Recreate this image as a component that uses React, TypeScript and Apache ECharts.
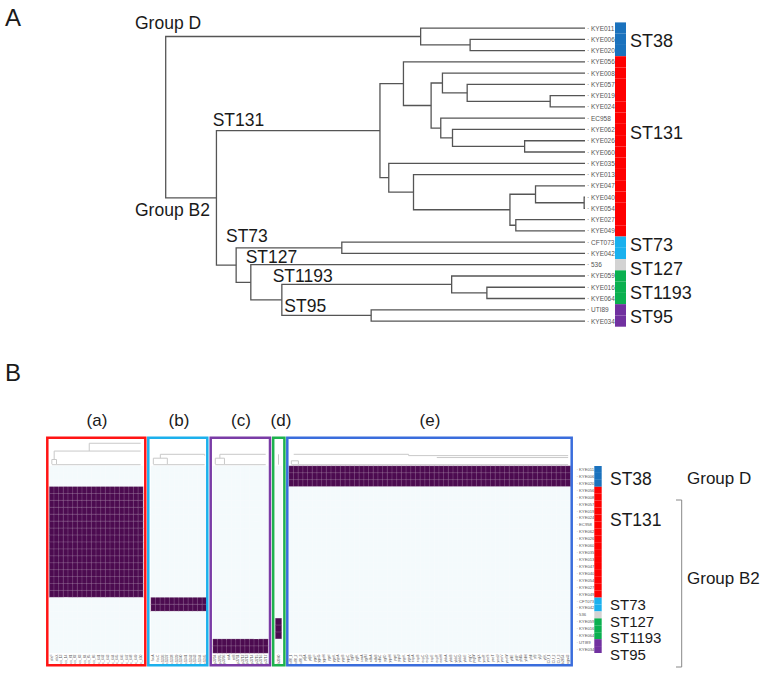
import React, { useEffect, useRef } from "react";
import * as echarts from "echarts";

// ---------------- DATA ----------------
const strains = [
  "KYE011", "KYE006", "KYE020", "KYE056", "KYE008", "KYE057", "KYE019", "KYE024", "EC958",
  "KYE062", "KYE026", "KYE060", "KYE035", "KYE013", "KYE047", "KYE040", "KYE054", "KYE027",
  "KYE049", "CFT073", "KYE042", "536", "KYE059", "KYE016", "KYE064", "UTI89", "KYE034",
];
const stGroups = ["ST38", "ST131", "ST73", "ST127", "ST1193", "ST95"];
const stSizes = [3, 16, 2, 1, 3, 2];

// tree: [branch point depth, child, child]; leaves at depth 100
type TNode = string | [number, TNode, TNode];
const tree: TNode = [0,
  [60.8, "KYE011", [72.6, "KYE006", "KYE020"]],
  [12.1,
    [51.1,
      [56.7, "KYE056",
        [63.3,
          [66.0, "KYE008", [71.9, "KYE057", [91.7, "KYE019", "KYE024"]]],
          [65.6, "EC958", [68.4, "KYE062", [85.6, "KYE026", "KYE060"]]],
        ],
      ],
      [53.2, "KYE035",
        [59.1, "KYE013",
          [82.1,
            [88.2, "KYE047", [99.8, "KYE040", "KYE054"]],
            [83.5, "KYE027", "KYE049"],
          ],
        ],
      ],
    ],
    [16.8,
      [42.0, "CFT073", "KYE042"],
      [20.3, "536",
        [27.7,
          [68.2, "KYE059", [76.6, "KYE016", "KYE064"]],
          [49.0, "UTI89", "KYE034"],
        ],
      ],
    ],
  ],
];

const genesA = ["sfaF", "sfaX", "ecs_13", "ecs_14", "ecs_81", "ecs_82", "ecs_83", "ecs_84", "ecs_85",
  "ecs_86", "ec_641", "ec_642", "ec_643", "ec_644", "ec_645", "ec_646", "ec_647", "ec_648", "ec_649", "ec_650"];
const genesB = ["focA", "focC", "c1336", "c1337", "c1338", "c1339", "c1340", "c1341", "c1342", "c1343", "c1344", "c1345"];
const genesC = ["ap3704", "ap3705", "ap3706", "eitA", "eitB", "ap3711", "ap3712", "ap3713", "ap3714",
  "ap3715", "ap3716", "ap3717"];
const genesD = ["k3060"];
const genesE = ["s88_1", "s88_2", "s88_3", "ydjA", "ydjB", "ygeF", "ygeG", "ygeH", "ygeI", "ygeK",
  "yqeA", "yqeB", "yqeC", "ygfJ", "ygfK", "ssnA", "ygfM", "xdhA", "xdhB", "xdhC", "ygfO", "yqeH",
  "yqeI", "yqeJ", "yqeK", "ygeA", "ecpA", "ecpB", "ecpC", "ecpD", "ecpE", "ecpR", "eaeH", "ybbA",
  "ybbB", "ybbC", "ybbD", "ybbE", "ycgV", "ycgW", "ycgX", "yeeR", "yeeS", "yeeT", "yeeU", "yeeV",
  "yeeW", "yfdE", "yfdF", "yfdG", "yfdH", "yfdI", "yfjI", "yfjJ", "yfjK", "ECU_1", "ECU_2",
  "ECU_3", "b2854", "agn43"];
const blockGenes = [genesA, genesB, genesC, genesD, genesE];
const blockST = ["ST131", "ST73", "ST95", "ST1193", "ST38"];

// column dendrograms above each heatmap block (polylines in [column, height])
const colTreeA = [
  [[0, 0.3], [0, 1.0], [1, 1.0], [1, 0.3]],
  [[0.5, 1.0], [0.5, 2.3], [19, 2.3]],
  [[8, 2.3], [8, 3.5], [19, 3.5]],
  [[0, 0.2], [19, 0.2]],
];
const colTreeB = [
  [[0, 0.3], [0, 1.2], [3, 1.2], [3, 0.3]],
  [[1.5, 1.2], [1.5, 1.8], [11, 1.8], [11, 1.6]],
  [[0, 0.2], [11, 0.2]],
];
const colTreeC = [
  [[0, 0.3], [0, 1.2], [2, 1.2], [2, 0.3]],
  [[1, 1.2], [1, 1.8], [11, 1.8]],
  [[0, 0.2], [11, 0.2]],
];
const colTreeD = [
  [[0, 0.2], [0, 1.8]],
];
const colTreeE = [
  [[0, 0.3], [0, 0.8], [1.5, 0.8], [1.5, 0.3]],
  [[0, 0.2], [59, 0.2]],
  [[0.5, 1.8], [25, 1.8], [25, 1.6], [59, 1.6]],
  [[31, 1.3], [59, 1.3]],
];
const colTrees = [colTreeA, colTreeB, colTreeC, colTreeD, colTreeE];

// ---------------- STYLE ----------------
const FONT = "'Liberation Sans', Arial, Helvetica, sans-serif";
const stColors: Record<string, string> = {
  ST38: "#1b72bd", ST131: "#ff0000", ST73: "#1ab1ee", ST127: "#d3d3d3", ST1193: "#0bb04f", ST95: "#7131a0",
};
const boxColors = ["#ff1414", "#1cb0ec", "#7a3ca6", "#1eb24e", "#3a6ddc"];
const hmGrids = [
  { left: 49.5, width: 93.5 },
  { left: 151, width: 56 },
  { left: 213, width: 55 },
  { left: 275.5, width: 6 },
  { left: 289, width: 281.5 },
];
const boxes = [
  { x: 47.3, w: 98 },
  { x: 148.3, w: 59 },
  { x: 210.7, w: 59.3 },
  { x: 273.2, w: 11.2 },
  { x: 287.3, w: 284.4 },
];

function buildOption() {
  const strainST: string[] = [];
  stGroups.forEach((g, i) => {
    for (let k = 0; k < stSizes[i]; k++) strainST.push(g);
  });

  // dendrogram segments
  const segs: any[] = [];
  const lay = (n: TNode): { y: number; d: number } => {
    if (typeof n === "string") return { y: strains.indexOf(n), d: 100 };
    const [h, l, r] = n;
    const a = lay(l);
    const b = lay(r);
    segs.push({ coords: [[a.d, a.y], [h, a.y], [h, b.y], [b.d, b.y]] });
    return { y: (a.y + b.y) / 2, d: h };
  };
  lay(tree);

  const TOP_A = 22.4, H_A = 304.3;
  const TOP_B = 466, H_B = 187;

  const grid: any[] = [
    { left: 165.7, top: TOP_A, width: 419.3, height: H_A },
    { left: 615, top: TOP_A, width: 11, height: H_A },
    { left: 594.3, top: TOP_B, width: 7.4, height: H_B },
  ];
  const xAxis: any[] = [
    { type: "value", gridIndex: 0, min: 0, max: 100, show: false },
    { type: "value", gridIndex: 1, min: 0, max: 1, show: false },
    { type: "value", gridIndex: 2, min: 0, max: 1, show: false },
  ];
  const yAxis: any[] = [
    { type: "value", gridIndex: 0, min: -0.5, max: 26.5, inverse: true, show: false },
    {
      type: "category", gridIndex: 0, data: strains, inverse: true, position: "right",
      axisLine: { show: false }, axisTick: { show: false },
      axisLabel: { fontSize: 6.5, color: "#555", margin: 2, interval: 0, fontFamily: FONT, formatter: (v: string) => "· " + v },
    },
    { type: "category", gridIndex: 1, data: strains, inverse: true, show: false },
    { type: "category", gridIndex: 2, data: strains, inverse: true, show: false },
  ];
  const series: any[] = [
    {
      type: "lines", coordinateSystem: "cartesian2d", xAxisIndex: 0, yAxisIndex: 0, polyline: true,
      silent: true, data: segs, lineStyle: { color: "#555", width: 1.3, opacity: 1 },
    },
    {
      type: "bar", xAxisIndex: 1, yAxisIndex: 2, barWidth: "100%", silent: true,
      data: strainST.map((s) => ({ value: 1, itemStyle: { color: stColors[s] } })),
    },
    {
      type: "bar", xAxisIndex: 2, yAxisIndex: 3, barWidth: "100%", silent: true,
      data: strainST.map((s) => ({ value: 1, itemStyle: { color: stColors[s] } })),
    },
  ];

  const hmSeriesIdx: number[] = [];
  blockGenes.forEach((genes, b) => {
    const gi = grid.length;
    grid.push({ left: hmGrids[b].left, width: hmGrids[b].width, top: TOP_B, height: H_B });
    const xi = xAxis.length;
    xAxis.push({
      type: "category", gridIndex: gi, data: genes, position: "bottom",
      axisLine: { show: false }, axisTick: { show: false }, splitLine: { show: false },
      axisLabel: { rotate: 90, fontSize: 3.4, color: "#555", margin: 1.5, interval: 0, fontFamily: FONT },
    });
    const yi = yAxis.length;
    if (b === 4) {
      yAxis.push({
        type: "category", gridIndex: gi, data: strains, inverse: true, position: "right",
        axisLine: { show: false }, axisTick: { show: false }, splitLine: { show: false },
        axisLabel: { fontSize: 4.2, color: "#555", margin: 6, interval: 0, fontFamily: FONT, formatter: (v: string) => "· " + v },
      });
    } else {
      yAxis.push({ type: "category", gridIndex: gi, data: strains, inverse: true, show: false });
    }
    const data: number[][] = [];
    genes.forEach((_, c) => {
      strains.forEach((_s, r) => {
        data.push([c, r, strainST[r] === blockST[b] ? 1 : 0]);
      });
    });
    hmSeriesIdx.push(series.length);
    series.push({
      type: "heatmap", xAxisIndex: xi, yAxisIndex: yi, data, silent: true,
      itemStyle: { borderColor: "rgba(255,255,255,0.28)", borderWidth: 0.6 },
      emphasis: { disabled: true },
    });

    // column dendrogram grid
    const gd = grid.length;
    grid.push({ left: hmGrids[b].left, width: hmGrids[b].width, top: 440, height: 26 });
    const xd = xAxis.length;
    xAxis.push({ type: "value", gridIndex: gd, min: -0.5, max: genes.length - 0.5, show: false });
    const yd = yAxis.length;
    yAxis.push({ type: "value", gridIndex: gd, min: 0, max: 4, show: false });
    series.push({
      type: "lines", coordinateSystem: "cartesian2d", xAxisIndex: xd, yAxisIndex: yd, polyline: true,
      silent: true, data: colTrees[b].map((c) => ({ coords: c })),
      lineStyle: { color: "#c9c9c9", width: 1, opacity: 1 },
    });
  });

  const txt = (text: string, x: number, y: number, fs: number, align = "left") => ({
    type: "text", silent: true,
    style: { text, x, y, fill: "#1a1a1a", font: `${fs}px ${FONT}`, textAlign: align, textVerticalAlign: "middle" },
  });

  const graphic: any[] = [
    txt("A", 5, 17, 24),
    txt("B", 5, 372, 24),
    txt("Group D", 135, 23, 17.5),
    txt("ST131", 212.7, 120, 17.5),
    txt("Group B2", 135, 210, 17.5),
    txt("ST73", 226, 235.7, 17.5),
    txt("ST127", 245.7, 256.7, 17.5),
    txt("ST1193", 272.7, 276, 17.5),
    txt("ST95", 284.3, 305.7, 17.5),
    txt("ST38", 630, 41, 18),
    txt("ST131", 630, 133, 18),
    txt("ST73", 630, 245, 18),
    txt("ST127", 630, 269, 18),
    txt("ST1193", 630, 293, 18),
    txt("ST95", 630, 317, 18),
    txt("(a)", 97, 420, 17, "center"),
    txt("(b)", 179, 420, 17, "center"),
    txt("(c)", 241, 420, 17, "center"),
    txt("(d)", 281, 420, 17, "center"),
    txt("(e)", 430, 420, 17, "center"),
    txt("ST38", 610, 479, 17.5),
    txt("ST131", 610, 520, 17.5),
    txt("ST73", 610, 604.5, 15),
    txt("ST127", 610, 621.2, 15),
    txt("ST1193", 610, 637.9, 15),
    txt("ST95", 610, 654.6, 15),
    txt("Group D", 687, 478, 17),
    txt("Group B2", 687, 578, 17),
    {
      type: "polyline", silent: true,
      shape: { points: [[676, 500], [681.7, 500], [681.7, 667], [676, 667]] },
      style: { stroke: "#888", lineWidth: 1, fill: "none" },
    },
    ...boxes.map((bx, i) => ({
      type: "rect", silent: true, z: 100,
      shape: { x: bx.x, y: 437.7, width: bx.w, height: 227.5 },
      style: { fill: "none", stroke: boxColors[i], lineWidth: 2.5 },
    })),
  ];

  return {
    animation: false,
    backgroundColor: "#ffffff",
    textStyle: { fontFamily: FONT },
    grid, xAxis, yAxis, series,
    visualMap: {
      type: "piecewise", show: false, seriesIndex: hmSeriesIdx,
      pieces: [
        { value: 0, color: "#f4fafc" },
        { value: 1, color: "#4c0b50" },
      ],
    },
    graphic,
  };
}

export default function App() {
  const ref = useRef<HTMLDivElement>(null);
  useEffect(() => {
    if (!ref.current) return;
    const chart = echarts.init(ref.current, undefined, { renderer: "svg" });
    chart.setOption(buildOption() as any);
    return () => chart.dispose();
  }, []);
  return <div ref={ref} style={{ position: "fixed", left: 0, top: 0, width: 767, height: 696 }} />;
}
